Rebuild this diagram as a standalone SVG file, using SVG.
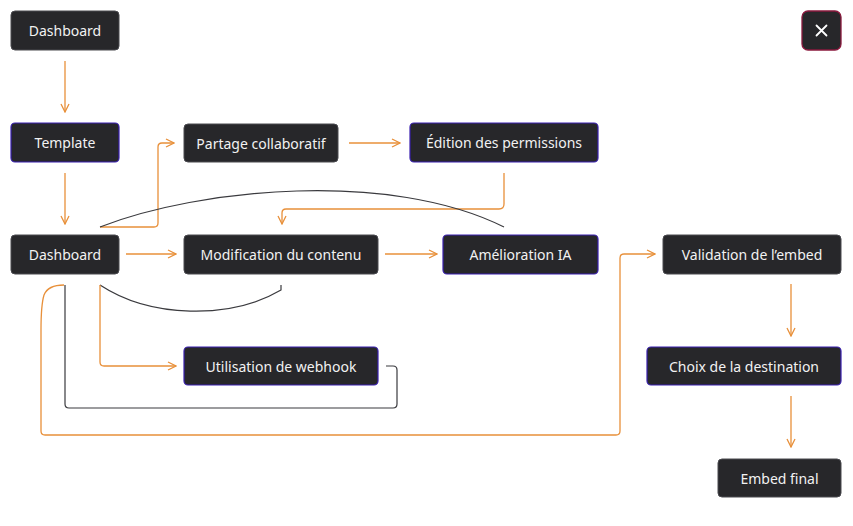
<svg xmlns="http://www.w3.org/2000/svg" width="853" height="526" viewBox="0 0 853 526">
<defs>
<marker id="ah" viewBox="0 0 10 10" refX="9" refY="5" markerWidth="10" markerHeight="10" markerUnits="userSpaceOnUse" orient="auto">
<path d="M1,1 L9,5 L1,9" fill="none" stroke="#e8903a" stroke-width="1.3"/>
</marker>
<style>
.n rect{fill:#27272a;stroke:#4a4a4f;stroke-width:1;}
.p rect{stroke:#3a20b0;stroke-width:1.2;}
.n text{fill:#f2f2f2;font-family:"Noto Sans","Open Sans",sans-serif;font-size:14px;text-anchor:middle;dominant-baseline:central;}
.o{fill:none;stroke:#e8903a;stroke-width:1.3;}
.oa{marker-end:url(#ah);}
.d{fill:none;stroke:#3a3a3e;stroke-width:1.2;}
</style>
</defs>
<rect width="853" height="526" fill="#ffffff"/>
<g id="connectors">
<path class="o oa" d="M65,61 V112"/>
<path class="o oa" d="M65,173 V224"/>
<path class="o oa" d="M100,227 H154 Q158,227 158,223 V147 Q158,143 162,143 H174"/>
<path class="o oa" d="M349,143 H400"/>
<path class="o oa" d="M504,173 V204 Q504,209 499,209 H286 Q282,209 282,213 V224"/>
<path class="o oa" d="M126,254 H176"/>
<path class="o oa" d="M385,254 H437"/>
<path class="d" d="M100,227 C200,188 390,170 504,227"/>
<path class="d" d="M281,285 V290 C230,320 150,318 100,285"/>
<path class="o oa" d="M100,285 V362 Q100,366 104,366 H176"/>
<path class="d" d="M386,366 H393 Q397,366 397,370 V404 Q397,408 393,408 H69 Q65,408 65,404 V285"/>
<path class="o oa" d="M64,285 Q48,285 44,295 Q41,305 41,330 V431 Q41,435 45,435 H616 Q620,435 620,431 V258 Q620,254 624,254 H655"/>
<path class="o oa" d="M791,284 V336"/>
<path class="o oa" d="M791,396 V447"/>
</g>
<g id="n1" class="n"><rect x="11" y="11" width="108" height="39" rx="4"/><text x="65" y="30.5">Dashboard</text></g>
<g id="n2" class="n p"><rect x="11" y="123" width="108" height="39" rx="4"/><text x="65" y="142.5">Template</text></g>
<g id="n3" class="n"><rect x="184" y="124" width="154" height="38" rx="4"/><text x="261" y="143">Partage collaboratif</text></g>
<g id="n4" class="n p"><rect x="410" y="123" width="188" height="39" rx="4"/><text x="504" y="142.5">Édition des permissions</text></g>
<g id="n5" class="n"><rect x="11" y="235" width="108" height="39" rx="4"/><text x="65" y="254.5">Dashboard</text></g>
<g id="n6" class="n"><rect x="184" y="235" width="194" height="39" rx="4"/><text x="281" y="254.5">Modification du contenu</text></g>
<g id="n7" class="n p"><rect x="443" y="235" width="155" height="39" rx="4"/><text x="520.5" y="254.5">Amélioration IA</text></g>
<g id="n8" class="n"><rect x="663" y="235" width="178" height="39" rx="4"/><text x="752" y="254.5">Validation de l’embed</text></g>
<g id="n9" class="n p"><rect x="184" y="347" width="194" height="38" rx="4"/><text x="281" y="366">Utilisation de webhook</text></g>
<g id="n10" class="n p"><rect x="647" y="347" width="194" height="38" rx="4"/><text x="744" y="366">Choix de la destination</text></g>
<g id="n11" class="n"><rect x="718" y="459" width="123" height="38" rx="4"/><text x="779.5" y="478">Embed final</text></g>
<g id="close"><rect x="802" y="11" width="39" height="39" rx="6" fill="#27272a" stroke="#8a1a3e" stroke-width="1.3"/><path d="M816.5,25.5 L826.5,35.5 M826.5,25.5 L816.5,35.5" stroke="#ffffff" stroke-width="1.8" stroke-linecap="round"/></g>
</svg>
